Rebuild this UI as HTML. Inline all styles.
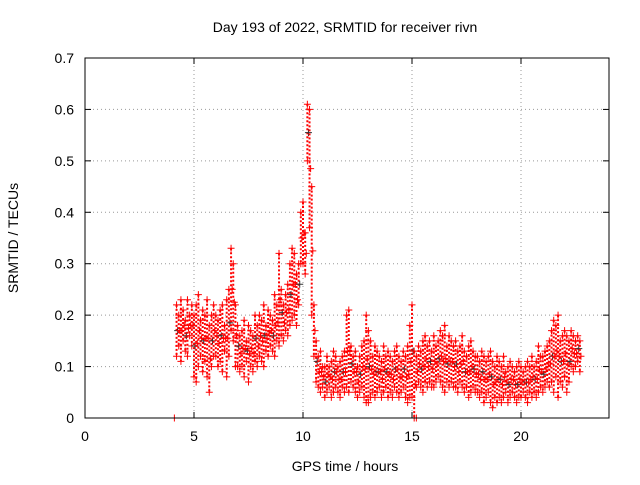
<!DOCTYPE html>
<html><head><meta charset="utf-8"><style>
body{margin:0;background:#fff;font-family:"Liberation Sans",sans-serif}
svg text{font-family:"Liberation Sans",sans-serif;font-size:14px;fill:#000}
</style></head><body>
<svg id="chart" width="640" height="480">
<rect x="0" y="0" width="640" height="480" fill="#fff"/>
<text x="345" y="32" text-anchor="middle">Day 193 of 2022, SRMTID for receiver rivn</text>
<text x="345" y="471" text-anchor="middle">GPS time / hours</text>
<text transform="translate(18,238) rotate(-90)" text-anchor="middle">SRMTID / TECUs</text>
<g id="grid"></g><g id="marks"></g>
<rect x="85" y="58" width="524" height="360" fill="none" stroke="#000" stroke-width="1"/>
</svg>
<script>
const xTicks=[0,5,10,15,20];
const yTicks=[0,0.1,0.2,0.3,0.4,0.5,0.6,0.7];
const yLabels=["0","0.1","0.2","0.3","0.4","0.5","0.6","0.7"];
const t0=4.2, dt=0.1;
const hi=[.22,.2,.23,.21,.19,.23,.2,.22,
.2,.22,.24,.19,.21,.2,.23,.18,.2,.22,
.2,.19,.21,.22,.18,.23,.25,.33,.3,.22,
.18,.16,.17,.19,.15,.18,.17,.16,.2,.18,
.2,.19,.22,.18,.21,.2,.19,.24,.22,.32,
.25,.22,.24,.26,.3,.33,.32,.28,.3,.4,
.42,.36,.61,.6,.45,.22,.15,.12,.13,.1,
.1,.12,.1,.11,.13,.12,.1,.11,.12,.13,
.2,.21,.14,.12,.13,.1,.12,.14,.15,.2,
.17,.15,.12,.14,.13,.12,.11,.14,.12,.13,
.12,.11,.13,.14,.12,.11,.13,.12,.14,.18,
.22,.13,.12,.14,.13,.15,.16,.14,.15,.13,
.16,.14,.15,.17,.16,.18,.14,.16,.15,.14,
.15,.13,.14,.16,.13,.12,.14,.15,.13,.12,
.12,.11,.13,.12,.11,.12,.13,.11,.1,.12,
.11,.1,.12,.09,.1,.11,.1,.09,.1,.11,
.1,.09,.1,.11,.1,.12,.1,.11,.14,.12,
.12,.13,.14,.15,.17,.19,.18,.2,.15,.16,
.17,.16,.15,.17,.16,.15,.16,.15];
const lo=[.12,.14,.11,.15,.13,.12,.16,.14,
.08,.07,.1,.12,.09,.11,.08,.05,.1,.12,
.12,.1,.11,.09,.13,.08,.12,.17,.15,.1,
.1,.09,.1,.08,.11,.07,.1,.09,.11,.1,
.12,.11,.1,.13,.12,.14,.13,.12,.15,.14,
.16,.15,.17,.16,.18,.19,.2,.18,.22,.3,
.3,.28,.5,.37,.2,.12,.07,.06,.05,.06,
.04,.05,.06,.04,.05,.06,.05,.04,.06,.05,
.06,.05,.07,.06,.05,.04,.05,.06,.04,.03,
.03,.04,.05,.04,.05,.06,.04,.05,.06,.04,
.05,.04,.06,.05,.04,.05,.06,.04,.03,.04,
.04,.0,.06,.07,.06,.05,.07,.06,.07,.06,
.06,.07,.08,.07,.06,.05,.07,.06,.07,.06,
.06,.05,.07,.06,.05,.06,.04,.05,.06,.05,
.05,.04,.05,.03,.04,.05,.03,.02,.04,.03,
.04,.03,.04,.05,.03,.04,.05,.04,.03,.04,
.04,.05,.04,.03,.05,.04,.05,.04,.05,.06,
.05,.06,.07,.06,.07,.05,.08,.04,.07,.06,
.08,.05,.07,.1,.09,.1,.11,.09];
const X=v=>85+v*21.8;
const Y=v=>418-v*514.3;
const NS="http://www.w3.org/2000/svg";
const grid=document.getElementById('grid'), marks=document.getElementById('marks');
function mk(tag,attrs,parent){const e=document.createElementNS(NS,tag);for(const k in attrs)e.setAttribute(k,attrs[k]);parent.appendChild(e);return e;}
xTicks.forEach(v=>{
 if(v>0){const g=mk('line',{x1:X(v),x2:X(v),y1:58,y2:418,stroke:'#999','stroke-dasharray':'1,3'},grid);
 
 }
 mk('line',{x1:X(v),x2:X(v),y1:418,y2:412,stroke:'#000'},grid);
 mk('line',{x1:X(v),x2:X(v),y1:58,y2:64,stroke:'#000'},grid);
 const t=mk('text',{x:X(v),y:441,'text-anchor':'middle'},grid);t.textContent=v;
 
 
});
yTicks.forEach((v,i)=>{
 if(v>0&&v<0.7){const g=mk('line',{x1:85,x2:609,y1:Y(v),y2:Y(v),stroke:'#999','stroke-dasharray':'1,3'},grid);
 
 }
 mk('line',{x1:85,x2:91,y1:Y(v),y2:Y(v),stroke:'#000'},grid);
 mk('line',{x1:603,x2:609,y1:Y(v),y2:Y(v),stroke:'#000'},grid);
 const t=mk('text',{x:74,y:Y(v)+5,'text-anchor':'end'},grid);t.textContent=yLabels[i];
 
 
});
function plus(x,y,c){const p=mk('path',{d:`M${x-3.5},${y}h7M${x},${y-3.5}v7`,stroke:c,'stroke-width':1},marks);
 
 }
hi.forEach((h,i)=>{
 const t=t0+i*dt, l=lo[i];
 const b=mk('line',{x1:X(t),x2:X(t),y1:Y(h),y2:Y(l),stroke:'#f00','stroke-width':2,'stroke-dasharray':'2,2'},marks);
 
 
 plus(X(t),Y(h),'#f00');plus(X(t),Y(l),'#f00');
 plus(X(t+dt/2),Y((h+l)/2),i%4===0?'#333':'#f00');
});
plus(X(4.1),Y(0),'#f00');plus(X(15.2),Y(0),'#f00');
</script>
</body></html>
